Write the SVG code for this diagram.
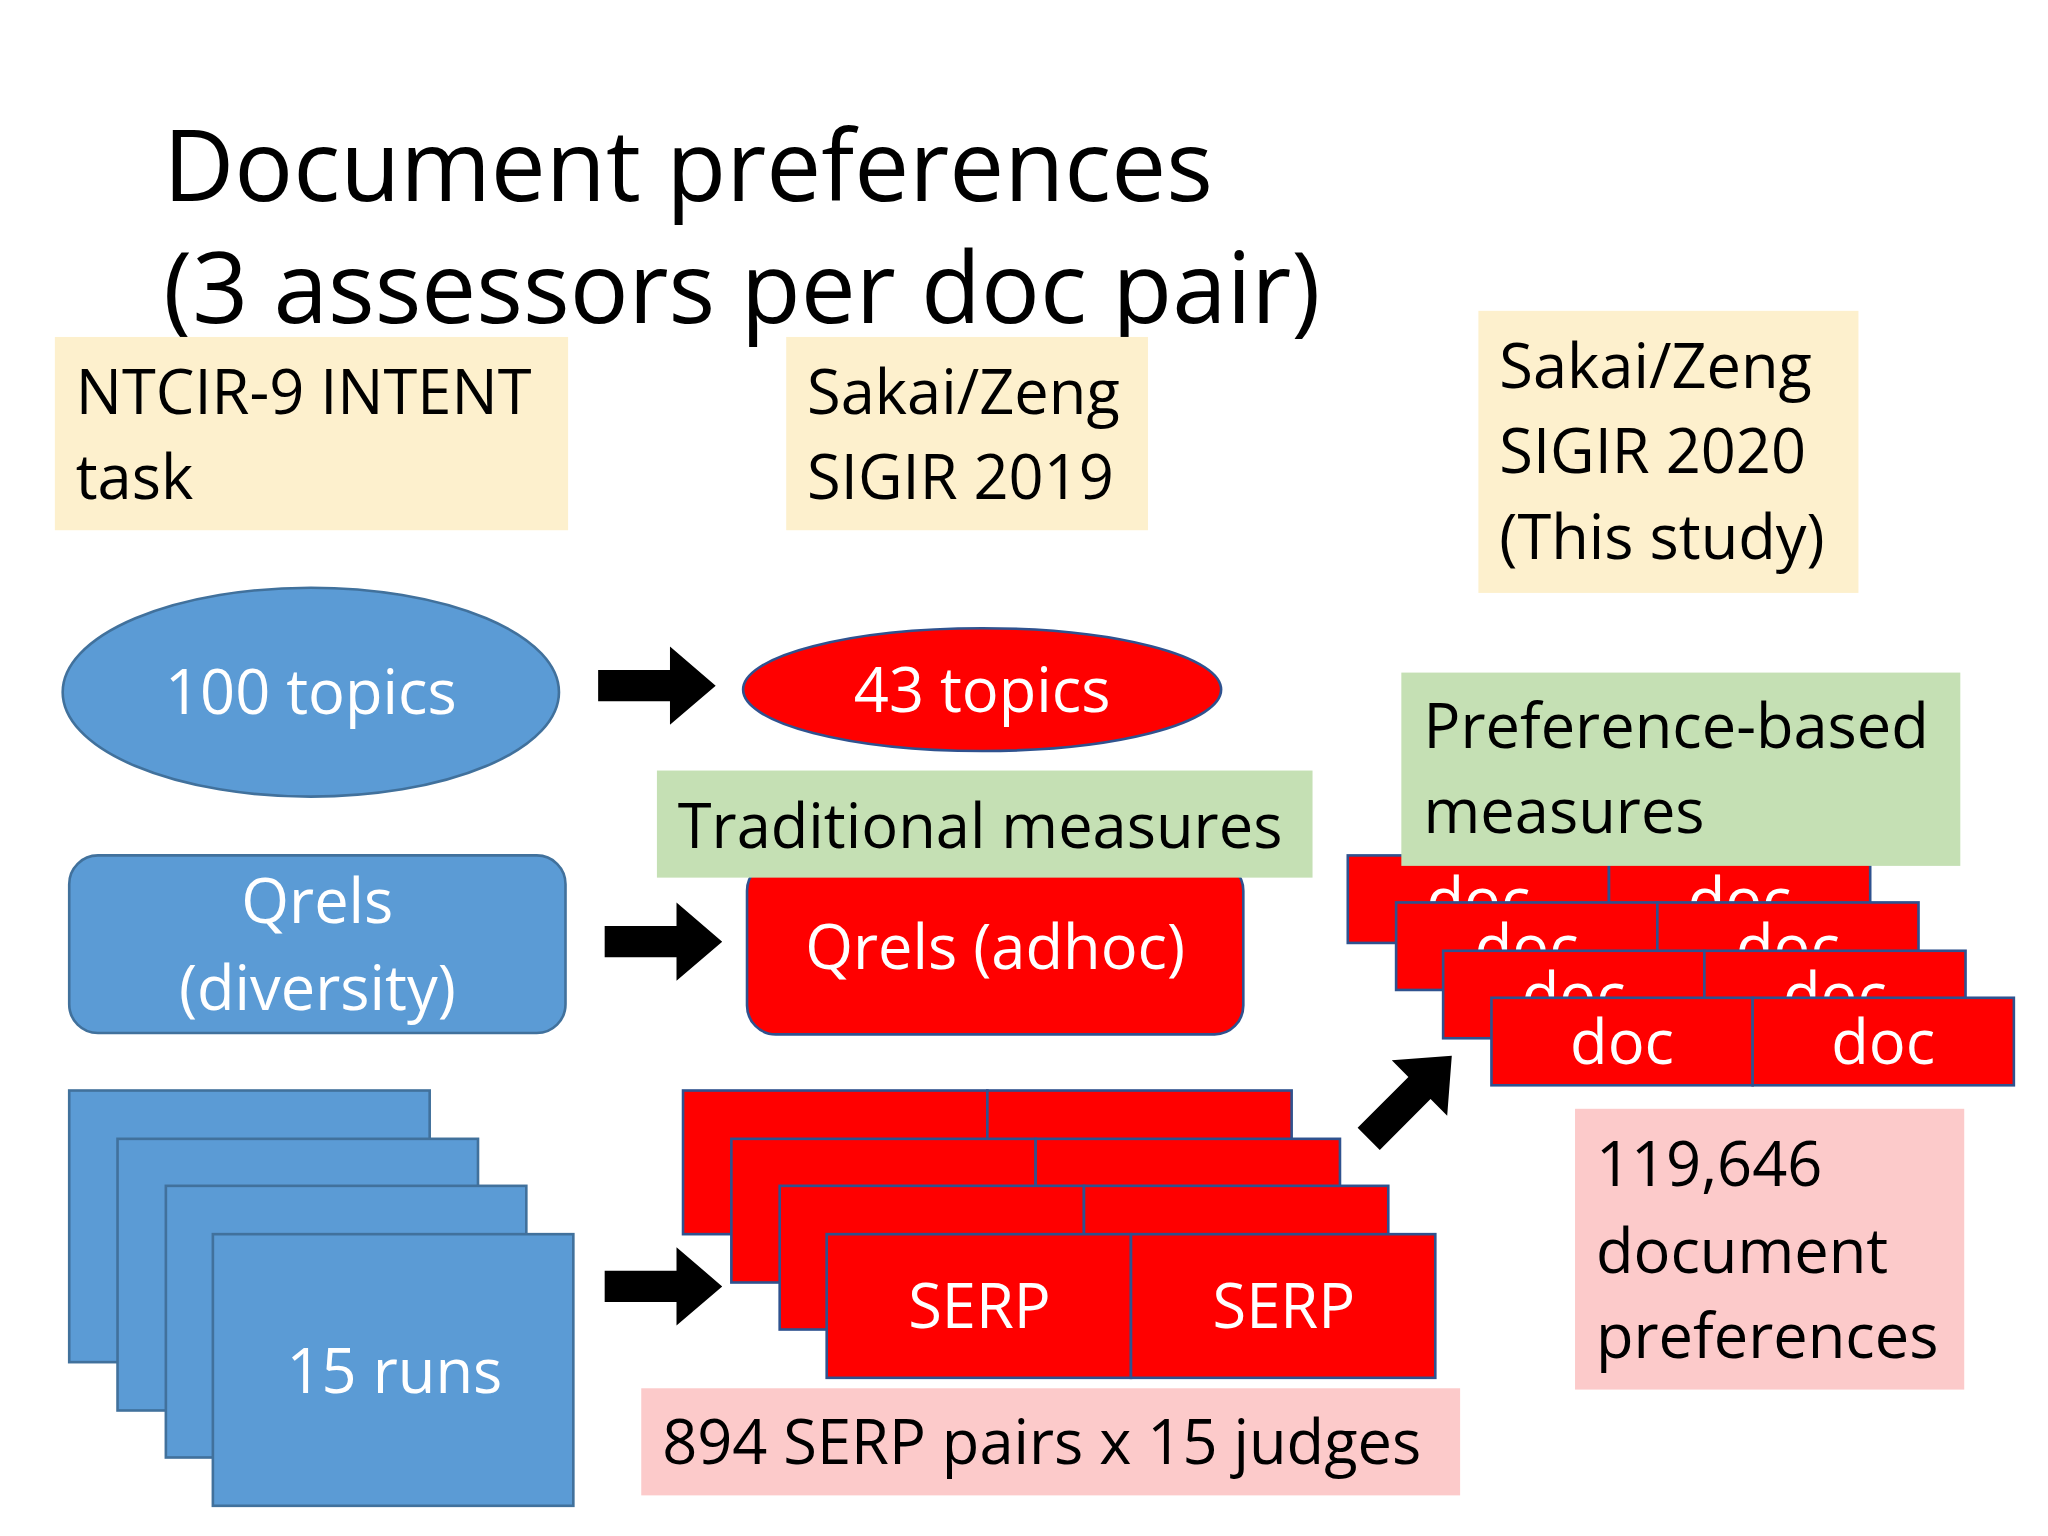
<svg xmlns="http://www.w3.org/2000/svg" width="2048" height="1536" viewBox="0 0 2048 1536">
<style>
text{font-family:"Open Sans","Noto Sans",sans-serif;font-size:47px}
.w{fill:#fff}.k{fill:#000}
.yl{fill:#fdf0cd}.gr{fill:#c5e0b4}.pk{fill:#fccaca}
.bl{fill:#5b9bd5;stroke:#41719c;stroke-width:2}
.rd{fill:#ff0000;stroke:#2f528f;stroke-width:2}
.ar{fill:#000}
</style>
<defs>
<path id="arr" d="M0,-12 H55 V-30 L90,0 L55,30 V12 H0 Z"/>
</defs>
<rect width="2048" height="1536" fill="#fff"/>
<g transform="scale(1.306)">
<g id="title"><text x="125" y="154" style="font-size:75px" class="k">Document preferences</text><text x="125" y="247" style="font-size:75px" class="k">(3 assessors per doc pair)</text></g>
<g id="y1"><rect x="42" y="258" width="393" height="148" class="yl"/><text x="58" y="317">NTCIR-9 INTENT</text><text x="58" y="382">task</text></g>
<g id="y2"><rect x="602" y="258" width="277" height="148" class="yl"/><text x="618" y="317">Sakai/Zeng</text><text x="618" y="382">SIGIR 2019</text></g>
<g id="y3"><rect x="1132" y="238" width="291" height="216" class="yl"/><text x="1148" y="297">Sakai/Zeng</text><text x="1148" y="362">SIGIR 2020</text><text x="1148" y="428">(This study)</text></g>
<g id="topics100"><ellipse cx="238" cy="530" rx="190" ry="80" class="bl"/><text x="238" y="547" text-anchor="middle" class="w">100 topics</text></g>
<g id="topics43"><ellipse cx="752" cy="528" rx="183" ry="47" class="rd"/><text x="752" y="545" text-anchor="middle" class="w">43 topics</text></g>
<g id="qrelsdiv"><rect x="53" y="655" width="380" height="136" rx="22" class="bl"/><text x="243" y="707" text-anchor="middle" class="w">Qrels</text><text x="243" y="773" text-anchor="middle" class="w">(diversity)</text></g>
<g id="qrelsadhoc"><rect x="572" y="660" width="380" height="132" rx="22" class="rd"/><text x="762" y="742" text-anchor="middle" class="w">Qrels (adhoc)</text></g>
<g id="trad"><rect x="503" y="590" width="502" height="82" class="gr"/><text x="519" y="649">Traditional measures</text></g>
<g id="runs"><rect x="53" y="835" width="276" height="208" class="bl"/><rect x="90" y="872" width="276" height="208" class="bl"/><rect x="127" y="908" width="276" height="208" class="bl"/><rect x="163" y="945" width="276" height="208" class="bl"/><text x="302" y="1067" text-anchor="middle" class="w">15 runs</text></g>
<g id="serps">
<rect x="523" y="835" width="233" height="110" class="rd"/><rect x="756" y="835" width="233" height="110" class="rd"/>
<rect x="560" y="872" width="233" height="110" class="rd"/><rect x="793" y="872" width="233" height="110" class="rd"/>
<rect x="597" y="908" width="233" height="110" class="rd"/><rect x="830" y="908" width="233" height="110" class="rd"/>
<rect x="633" y="945" width="233" height="110" class="rd"/><rect x="866" y="945" width="233" height="110" class="rd"/>
<text x="750" y="1017" text-anchor="middle" class="w">SERP</text><text x="983" y="1017" text-anchor="middle" class="w">SERP</text>
</g>
<g id="serplabel"><rect x="491" y="1063" width="627" height="82" class="pk"/><text x="507" y="1121">894 SERP pairs x 15 judges</text></g>
<g id="docs">
<rect x="1032" y="655" width="200" height="67" class="rd"/><rect x="1232" y="655" width="200" height="67" class="rd"/>
<text x="1132" y="706" text-anchor="middle" class="w">doc</text><text x="1332" y="706" text-anchor="middle" class="w">doc</text>
<rect x="1069" y="691" width="200" height="67" class="rd"/><rect x="1269" y="691" width="200" height="67" class="rd"/>
<text x="1169" y="742" text-anchor="middle" class="w">doc</text><text x="1369" y="742" text-anchor="middle" class="w">doc</text>
<rect x="1105" y="728" width="200" height="67" class="rd"/><rect x="1305" y="728" width="200" height="67" class="rd"/>
<text x="1205" y="779" text-anchor="middle" class="w">doc</text><text x="1405" y="779" text-anchor="middle" class="w">doc</text>
<rect x="1142" y="764" width="200" height="67" class="rd"/><rect x="1342" y="764" width="200" height="67" class="rd"/>
<text x="1242" y="815" text-anchor="middle" class="w">doc</text><text x="1442" y="815" text-anchor="middle" class="w">doc</text>
</g>
<g id="pref"><rect x="1073" y="515" width="428" height="148" class="gr"/><text x="1090" y="573">Preference-based</text><text x="1090" y="638">measures</text></g>
<g id="count"><rect x="1206" y="849" width="298" height="215" class="pk"/><text x="1222" y="908">119,646</text><text x="1222" y="975">document</text><text x="1222" y="1040">preferences</text></g>
<g id="connectors">
<use href="#arr" transform="translate(458,525)" class="ar"/>
<use href="#arr" transform="translate(463,721)" class="ar"/>
<use href="#arr" transform="translate(463,985)" class="ar"/>
<use href="#arr" transform="translate(1048,872) rotate(-45)" class="ar"/>
</g>
</g>
</svg>
